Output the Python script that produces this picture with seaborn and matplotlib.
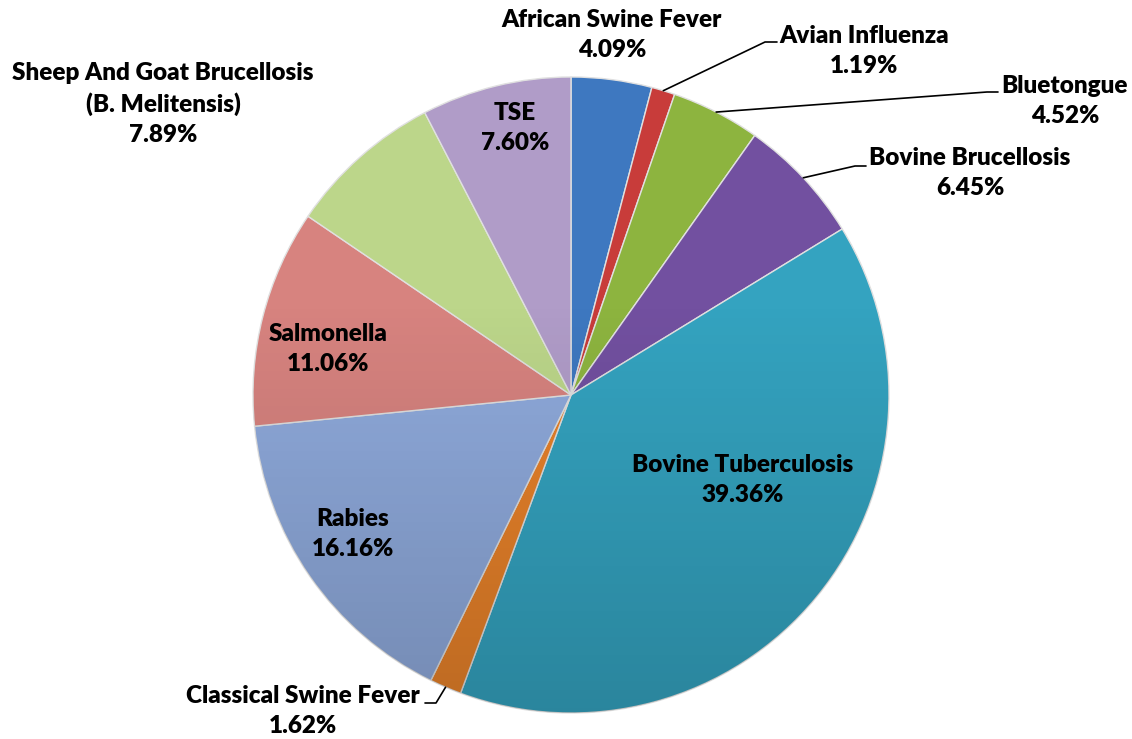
import numpy as np
import matplotlib
matplotlib.use("Agg")
import matplotlib.pyplot as plt
from matplotlib.patches import Circle
import seaborn as sns

# Data (percent of total)
diseases = ['African Swine Fever', 'Avian Influenza', 'Bluetongue', 'Bovine Brucellosis',
            'Bovine Tuberculosis', 'Classical Swine Fever', 'Rabies', 'Salmonella',
            'Sheep And Goat Brucellosis\n(B. Melitensis)', 'TSE']
shares = [4.09, 1.19, 4.52, 6.45, 39.36, 1.62, 16.16, 11.06, 7.89, 7.60]
colors = ['#3E78C0', '#C83C3A', '#8DB43F', '#7250A0', '#34A3C0',
          '#E8822A', '#8FAADC', '#D7837F', '#BCD68A', '#B09CC8']

sns.set_theme(style="white")
plt.rcParams['font.family'] = ['Lato', 'DejaVu Sans']

W, H = 1132, 739
CX, CY, R = 571, 395, 318

fig = plt.figure(figsize=(W / 100, H / 100), dpi=100)
ax = fig.add_axes([0, 0, 1, 1])


def px(x, y):
    # pixel position -> data coordinates (pie of radius 1)
    return (x - CX) / R, (CY - y) / R


wedges, _ = ax.pie(shares, colors=sns.color_palette(colors), startangle=90,
                   counterclock=False, radius=1,
                   wedgeprops=dict(edgecolor='#E0E0E0', linewidth=1.0))

# soft top-to-bottom darkening over the pie, like the original's gradient fill
g = np.linspace(0, 1, 256)
shade = np.zeros((256, 256, 4))
shade[..., 3] = np.clip((g - 0.35) * 0.28, 0, None)[:, None]
img = ax.imshow(shade, extent=(-1, 1, -1, 1), origin='upper', zorder=3,
                interpolation='bilinear')
img.set_clip_path(Circle((0, 0), 1, transform=ax.transData))

# label text positions (pixel centres) and whether a leader line is drawn
label_pos = {
    0: (612, 35, False),
    1: (864, 51, True),
    2: (1065, 101, True),
    3: (970, 173, True),
    4: (743, 480, False),
    5: (303, 711, True),
    6: (353, 534, False),
    7: (328, 349, False),
    8: (163, 104, False),
    9: (515, 128, False),
}
# leader lines: elbow point and end point (pixels)
leaders = {
    1: [(765, 42), (777, 42)],
    2: [(987, 92), (998, 92)],
    3: [(855, 166), (866, 166)],
    5: [(436, 703), (425, 703)],
}

for i, w in enumerate(wedges):
    tx, ty, leader = label_pos[i]
    text = f"{diseases[i]}\n{shares[i]:.2f}%"
    x, y = px(tx, ty)
    ax.text(x, y, text, ha='center', va='center', fontsize=17.5,
            fontweight='heavy', color='black', linespacing=1.42, zorder=5)
    if leader:
        ang = np.deg2rad((w.theta1 + w.theta2) / 2)
        xs, ys = [np.cos(ang)], [np.sin(ang)]
        for p in leaders[i]:
            lx, ly = px(*p)
            xs.append(lx)
            ys.append(ly)
        ax.plot(xs, ys, color='black', lw=1.2, zorder=5)

ax.set_xlim(-CX / R, (W - CX) / R)
ax.set_ylim(-(H - CY) / R, CY / R)
ax.set_aspect('equal')
ax.axis('off')

fig.savefig('out.png', dpi=100, facecolor='white')
